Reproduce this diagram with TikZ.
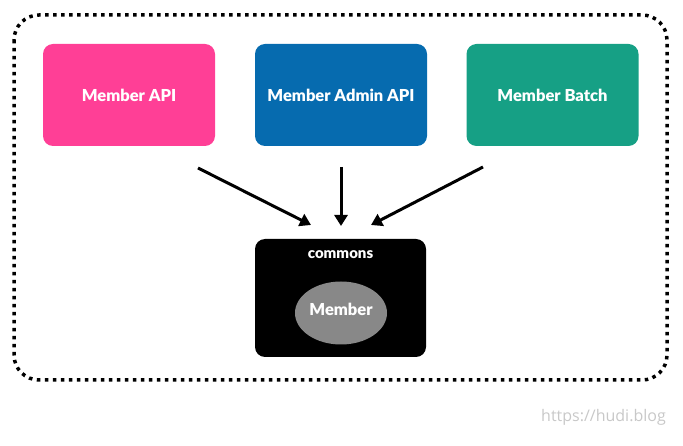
\documentclass[tikz,border=0pt]{standalone}
\usepackage{fontspec}
\setmainfont{Lato}
\newfontfamily\heavy{Lato Black}
\newfontfamily\wmfont{Open Sans}
\usetikzlibrary{arrows.meta,shapes.geometric}
\definecolor{cpink}{HTML}{FF3F96}
\definecolor{cblue}{HTML}{066BAF}
\definecolor{cteal}{HTML}{16A085}
\definecolor{cgrey}{HTML}{888888}
\definecolor{cwm}{HTML}{C8C8C8}
\begin{document}
\begin{tikzpicture}[x=1pt,y=-1pt,
  appbox/.style={rounded corners=10pt,minimum width=172pt,minimum height=102pt,inner sep=0pt,text=white,font=\heavy\fontsize{16.5}{18}\selectfont},
  arr/.style={line width=3pt,-{Triangle[length=11pt,width=13pt]}}]
\useasboundingbox (0,0) rectangle (683,446);
\draw[line width=3.5pt,dash pattern=on 3.5pt off 4.5pt,rounded corners=25pt] (14,15) rectangle (667,380);
\node[appbox,fill=cpink] (api) at (129,95) {Member API};
\node[appbox,fill=cblue] (admin) at (341,95) {Member Admin API};
\node[appbox,fill=cteal] (batch) at (552.5,95) {Member Batch};
\node[appbox,fill=black,minimum width=171pt,minimum height=118pt] (commons) at (340.5,298) {};
\node[text=white,font=\heavy\fontsize{15}{17}\selectfont,inner sep=0pt] (ctitle) at (340.5,255) {commons};
\node[ellipse,fill=cgrey,minimum width=92pt,minimum height=63pt,inner sep=0pt] (member) at (341,313) {};
\node[text=white,font=\heavy\fontsize{16.5}{18}\selectfont,inner sep=0pt] (mtext) at (341,309) {Member};
\coordinate (a1) at (198,168);
\coordinate (a2) at (311,225);
\coordinate (b1) at (341,167);
\coordinate (b2) at (341,226);
\coordinate (c1) at (483,167);
\coordinate (c2) at (371,225);
\draw[arr] (a1) -- (a2);
\draw[arr] (b1) -- (b2);
\draw[arr] (c1) -- (c2);
\node[text=cwm,font=\wmfont\fontsize{16}{18}\selectfont,inner sep=0pt] (wm) at (603.5,417) {https://hudi.blog};
\end{tikzpicture}
\end{document}
